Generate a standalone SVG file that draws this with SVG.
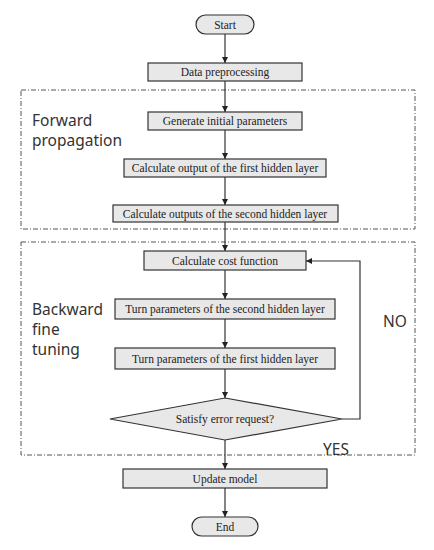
<svg xmlns="http://www.w3.org/2000/svg" width="434" height="550" viewBox="0 0 434 550">
<style>
.box{fill:#e8e8e8;stroke:#333;stroke-width:1.2}
.t{font-family:"Liberation Serif",serif;font-size:11.5px;fill:#222;text-anchor:middle}
.lbl{font-family:"Noto Sans","Open Sans",sans-serif;font-size:15.5px;fill:#333;font-weight:normal}
.grp{fill:none;stroke:#555;stroke-width:1;stroke-dasharray:5 2 1 2}
.c{fill:none;stroke:#333;stroke-width:1.2}
</style>
<defs>
<marker id="ah" viewBox="0 0 8 8" refX="8" refY="4" markerWidth="6" markerHeight="6" markerUnits="userSpaceOnUse" orient="auto">
<path d="M0,0 L8,4 L0,8 z" fill="#222"/>
</marker>
</defs>
<rect id="forward-group" class="grp" x="21" y="90" width="394" height="139"/>
<rect id="backward-group" class="grp" x="21" y="242" width="394" height="213"/>
<text class="lbl" x="32" y="126">Forward</text>
<text class="lbl" x="32" y="146">propagation</text>
<text class="lbl" x="32" y="315">Backward</text>
<text class="lbl" x="32" y="335">fine</text>
<text class="lbl" x="32" y="355">tuning</text>
<text class="lbl" x="383" y="327">NO</text>
<text class="lbl" x="323" y="455">YES</text>
<g id="connectors">
<line class="c" x1="225" y1="34" x2="225" y2="63" marker-end="url(#ah)"/>
<line class="c" x1="225" y1="81" x2="225" y2="112" marker-end="url(#ah)"/>
<line class="c" x1="225" y1="130" x2="225" y2="159" marker-end="url(#ah)"/>
<line class="c" x1="225" y1="177" x2="225" y2="205" marker-end="url(#ah)"/>
<line class="c" x1="225" y1="222" x2="225" y2="251" marker-end="url(#ah)"/>
<line class="c" x1="225" y1="270" x2="225" y2="299" marker-end="url(#ah)"/>
<line class="c" x1="225" y1="319" x2="225" y2="348" marker-end="url(#ah)"/>
<line class="c" x1="225" y1="369" x2="225" y2="398" marker-end="url(#ah)"/>
<line class="c" x1="225" y1="440" x2="225" y2="469" marker-end="url(#ah)"/>
<line class="c" x1="225" y1="488" x2="225" y2="517" marker-end="url(#ah)"/>
<polyline class="c" points="342,419 360,419 360,261 306,261" marker-end="url(#ah)"/>
</g>
<g id="start"><rect class="box" x="196" y="15" width="58" height="19" rx="9.5"/><text class="t" x="225" y="28.5">Start</text></g>
<g id="data-preprocessing"><rect class="box" x="148" y="63" width="154" height="18"/><text class="t" x="225" y="76">Data preprocessing</text></g>
<g id="generate-initial"><rect class="box" x="148" y="112" width="154" height="18"/><text class="t" x="225" y="125">Generate initial parameters</text></g>
<g id="calc-first"><rect class="box" x="124" y="159" width="202" height="18"/><text class="t" x="225" y="172">Calculate output of the first hidden layer</text></g>
<g id="calc-second"><rect class="box" x="113" y="205" width="225" height="17"/><text class="t" x="225" y="217.5">Calculate outputs of the second hidden layer</text></g>
<g id="cost"><rect class="box" x="144" y="251" width="162" height="19"/><text class="t" x="225" y="264.5">Calculate cost function</text></g>
<g id="turn-second"><rect class="box" x="115" y="299" width="220" height="20"/><text class="t" x="225" y="313">Turn parameters of the second hidden layer</text></g>
<g id="turn-first"><rect class="box" x="115" y="348" width="220" height="21"/><text class="t" x="225" y="362.5">Turn parameters of the first hidden layer</text></g>
<g id="satisfy"><polygon class="box" points="225,398 342,419 225,440 110,419"/><text class="t" x="225" y="423">Satisfy error request?</text></g>
<g id="update"><rect class="box" x="123" y="469" width="204" height="19"/><text class="t" x="225" y="482.5">Update model</text></g>
<g id="end"><rect class="box" x="192" y="517" width="66" height="19" rx="9.5"/><text class="t" x="225" y="530.5">End</text></g>
</svg>
